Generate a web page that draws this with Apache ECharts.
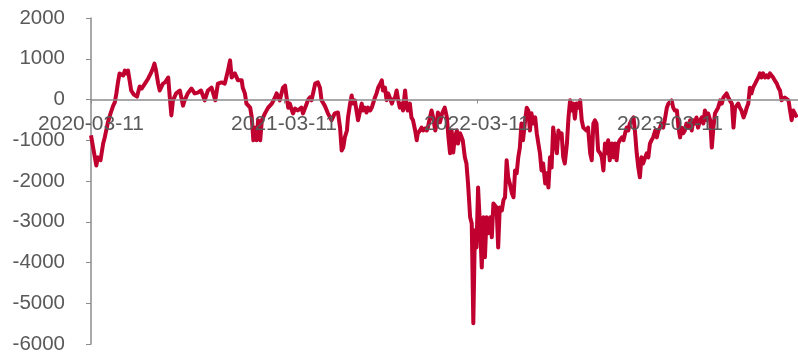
<!DOCTYPE html>
<html>
<head>
<meta charset="utf-8">
<script src="https://cdn.jsdelivr.net/npm/echarts@6/dist/echarts.min.js"></script>
<style>
html,body{margin:0;padding:0;background:#fff;}
#chart{width:798px;height:355px;}
</style>
</head>
<body>
<div id="chart"></div>
<script>
// Days since 2020-03-11
const startDate = '2020-03-11';
const days = [
0,10,13,18,23,26,32,37,42,45,48,51,54,57,61,64,67,70,73,76,81,87,92,96,102,108,113,117,120,123,127,130,136,140,146,149,152,155,161,168,174,177,183,190,196,202,208,215,221,
228,235,240,247,253,259,263,266,272,278,285,287,291,294,301,304,307,310,313,316,320,323,329,335,342,348,351,357,363,367,370,373,376,380,382,386,391,398,401,408,410,414,417,424,429,433,436,442,
448,455,461,467,471,474,477,480,484,486,490,493,495,499,502,505,509,512,514,518,521,524,528,531,533,537,540,543,547,550,552,556,559,562,565,569,571,575,578,581,584,588,590,594,597,599,603,606,609,613,616,618,622,625,628,632,635,637,641,644,647,651,654,656,660,664,669,673,676,679,
682,685,688,692,694,698,701,703,707,710,713,717,720,723,726,729,732,736,739,742,745,748,751,755,758,761,764,767,770,773,777,780,783,786,789,792,796,799,802,805,808,811,814,817,821,824,827,830,833,836,840,843,846,849,852,855,859,862,865,868,871,874,877,881,
884,887,890,893,896,900,903,906,909,912,915,918,922,925,928,931,934,937,940,944,947,950,953,956,959,963,966,969,972,975,978,981,985,988,991,994,997,1000,1004,1007,1010,1013,1016,1019,1022,1026,1029,1032,1035,1038,1041,1044,1048,1051,1054,1057,1060,1063,1067,1070,1073,1076,1079,1082,1085,1089,1092,1095,1098,1101,1104,1108,1111,1114,1117,1120,1123,1126,1130,1133,1136,1139,1142,1145,1148,1152,1155,1158,1161,1164,1167,1171,1174,1177,1180,1183,1186,1190,1193,1196,1199,1202,1205,1208,1212,1215,1218,1221,1224,1227,1230,1234,1237,1240,1243,1246,1249,1252,1256,1259,1262,1265,1268,1271,1275,1278,1281,1284,1287,1290,1293,1297,1300,1303,1306,1309,1312,1319,1322,1325,1328,1331,1335
];
const values = [
-880,-1620,-1420,-1490,-1080,-930,-560,-340,-150,-70,150,420,640,670,590,710,640,710,470,220,120,70,320,270,390,510,640,760,880,710,390,220,390,420,540,50,-390,-20,150,220,-150,-20,150,270,150,170,220,-20,220,
290,-20,390,420,390,710,960,540,640,470,470,290,150,-100,-200,-440,-1000,-690,-1000,-510,-1000,-510,-340,-200,-100,50,150,-20,290,340,50,-200,-100,-270,-340,-220,-270,-200,-340,-100,-20,50,-20,390,420,290,-20,-150,
-340,-510,-340,-320,-690,-1250,-1180,-930,-760,-440,-100,100,-100,-20,-270,-510,-270,-100,-270,-200,-320,-200,-270,-200,-200,50,150,290,390,470,220,290,-20,150,50,-100,-20,50,220,-20,-200,-100,-270,220,-200,-270,-100,-440,-510,-760,-1000,-830,-760,-690,-760,-710,-760,-690,-440,-270,-440,-760,-590,-320,-560,-340,-200,-440,-930,-1320,
-760,-1300,-930,-760,-1080,-830,-810,-1000,-1420,-1570,-2060,-2890,-3040,-5490,-3210,-3630,-2160,-3210,-4120,-2890,-3870,-2890,-3280,-2890,-3380,-2550,-2550,-2650,-3630,-2650,-2720,-2470,-2400,-1490,-1910,-2060,-2300,-2400,-1740,-1810,-1420,-1180,-590,-1000,-510,-200,-270,-760,-340,-590,-440,-830,-1080,-1320,-1740,-1570,-2060,-1810,-2160,-1420,-1670,-690,-1000,-1320,
-760,-930,-830,-1420,-1570,-1080,-440,-20,-270,-100,-470,-100,-200,-20,-510,-690,-690,-760,-690,-1320,-1490,-590,-510,-590,-1250,-1320,-1420,-1740,-1080,-1320,-1000,-1490,-1080,-1420,-1080,-1490,-1080,-1000,-930,-1000,-830,-690,-760,-590,-510,-440,-830,-1320,-1670,-1910,-1420,-1570,-1420,-1320,-1420,-1080,-1000,-930,-760,-930,-760,-690,-590,-690,-510,-200,-100,-100,-20,-200,-270,-270,-690,-930,-690,-830,-760,-590,-690,-510,-760,-510,-590,-440,-690,-510,-440,-590,-270,-510,-340,-510,-1180,-690,-340,-270,-200,-20,-100,50,50,150,50,-20,-100,-690,-200,-200,-100,-200,-270,-440,-340,-200,-100,290,150,290,390,470,540,640,540,640,540,590,540,640,640,540,470,390,290,220,-20,-20,50,-20,-270,-510,-270,-340,-440
];
const yTicks = [-6000,-5000,-4000,-3000,-2000,-1000,0,1000,2000];
const endDay = 1337;

function dayToLabel(d){
  const base = Date.UTC(2020,2,11);
  const dt = new Date(base + d*86400000);
  const p = n => (n<10?'0':'')+n;
  return dt.getUTCFullYear()+'-'+p(dt.getUTCMonth()+1)+'-'+p(dt.getUTCDate());
}

const W = 798, H = 355, gTop = 18, gBottom = 11;
const yMin = yTicks[0], yMax = yTicks[yTicks.length-1];
const gH = H - gTop - gBottom;
const zeroOffset = -gH * (0 - yMin) / (yMax - yMin);

const chart = echarts.init(document.getElementById('chart'));
chart.setOption({
  animation:false,
  grid:{left:91,right:0,top:gTop,bottom:gBottom,containLabel:false,outerBoundsMode:'none'},
  xAxis:{
    type:'value',min:0,max:endDay,interval:365,z:3,
    position:'bottom',offset:zeroOffset,
    axisLine:{onZero:false,lineStyle:{color:'#8c8c8c',width:1.5}},
    axisTick:{show:true,length:4,lineStyle:{color:'#8c8c8c'}},
    splitLine:{show:false},
    axisLabel:{
      margin:14,fontSize:21,color:'#595959',fontFamily:'Liberation Sans, Arial, sans-serif',
      formatter:function(v){return (v%365===0 && v<endDay)?dayToLabel(v):'';}
    }
  },
  yAxis:{
    type:'value',min:yMin,max:yMax,interval:1000,
    axisLine:{show:true,onZero:false,lineStyle:{color:'#8c8c8c',width:1.5}},
    axisTick:{show:true,length:5,lineStyle:{color:'#8c8c8c'}},
    splitLine:{show:false},
    axisLabel:{margin:26,fontSize:20.5,color:'#595959',fontFamily:'Liberation Sans, Arial, sans-serif',
      formatter:function(v){return String(v);}}
  },
  series:[{
    type:'line',
    data:days.map((d,i)=>[d,values[i]]),
    showSymbol:false,
    lineStyle:{color:'#C0002F',width:4,join:'round'},
    itemStyle:{color:'#C0002F'},
    z:2
  }]
});
</script>
</body>
</html>
